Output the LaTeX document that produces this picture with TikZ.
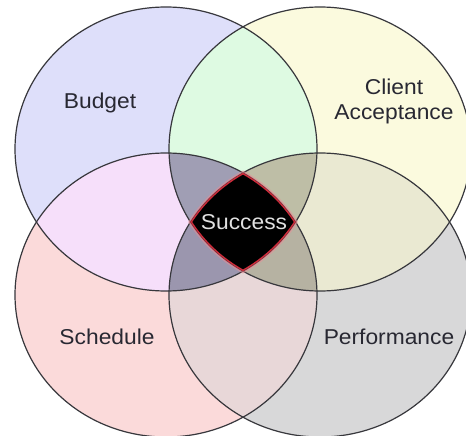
\documentclass[tikz,border=0pt]{standalone}
\usepackage{fontspec}
\setmainfont{Liberation Sans}
\definecolor{colB}{RGB}{222,223,250}
\definecolor{colC}{RGB}{251,250,222}
\definecolor{colS}{RGB}{251,218,218}
\definecolor{colP}{RGB}{216,216,217}
\definecolor{colBC}{RGB}{222,250,226}
\definecolor{colBS}{RGB}{246,223,250}
\definecolor{colCP}{RGB}{234,233,210}
\definecolor{colSP}{RGB}{232,215,216}
\definecolor{colBCS}{RGB}{160,158,180}
\definecolor{colBCP}{RGB}{190,190,166}
\definecolor{colBSP}{RGB}{155,150,174}
\definecolor{colCSP}{RGB}{182,178,162}
\definecolor{edgecol}{RGB}{55,55,60}
\definecolor{txt}{RGB}{40,40,50}
\definecolor{redline}{RGB}{205,45,60}
\definecolor{halo}{RGB}{235,140,150}
\begin{document}
\begin{tikzpicture}[x=1pt,y=-1pt,
  ell/.style={x radius=151pt,y radius=142pt},
  edge/.style={draw=edgecol,line width=1.2pt},
  lbl/.style={text=txt,font=\fontsize{21.5}{25}\selectfont,xscale=1.06,align=center,inner sep=0pt}]
\useasboundingbox (0,0) rectangle (466,436);
\fill[white] (0,0) rectangle (466,436);
\coordinate (cB) at (166,149);
\coordinate (cC) at (320,149);
\coordinate (cS) at (166,295);
\coordinate (cP) at (320,295);
% single circles
\fill[colB] (cB) ellipse[ell];
\fill[colC] (cC) ellipse[ell];
\fill[colS] (cS) ellipse[ell];
\fill[colP] (cP) ellipse[ell];
% pairs
\begin{scope}\clip (cB) ellipse[ell]; \fill[colBC] (cC) ellipse[ell];\end{scope}
\begin{scope}\clip (cB) ellipse[ell]; \fill[colBS] (cS) ellipse[ell];\end{scope}
\begin{scope}\clip (cC) ellipse[ell]; \fill[colCP] (cP) ellipse[ell];\end{scope}
\begin{scope}\clip (cS) ellipse[ell]; \fill[colSP] (cP) ellipse[ell];\end{scope}
% triples
\begin{scope}\clip (cB) ellipse[ell]; \clip (cC) ellipse[ell]; \fill[colBCS] (cS) ellipse[ell];\end{scope}
\begin{scope}\clip (cB) ellipse[ell]; \clip (cC) ellipse[ell]; \fill[colBCP] (cP) ellipse[ell];\end{scope}
\begin{scope}\clip (cB) ellipse[ell]; \clip (cS) ellipse[ell]; \fill[colBSP] (cP) ellipse[ell];\end{scope}
\begin{scope}\clip (cC) ellipse[ell]; \clip (cS) ellipse[ell]; \fill[colCSP] (cP) ellipse[ell];\end{scope}
% outlines
\draw[edge] (cB) ellipse[ell];
\draw[edge] (cC) ellipse[ell];
\draw[edge] (cS) ellipse[ell];
\draw[edge] (cP) ellipse[ell];
% halo around the centre
\begin{scope}
  \clip (cB) ellipse[x radius=153pt,y radius=144pt];
  \clip (cC) ellipse[x radius=153pt,y radius=144pt];
  \clip (cS) ellipse[x radius=153pt,y radius=144pt];
  \fill[halo,opacity=0.55] (cP) ellipse[x radius=153pt,y radius=144pt];
\end{scope}
% centre: all four
\begin{scope}
  \clip (cB) ellipse[ell]; \clip (cC) ellipse[ell]; \clip (cS) ellipse[ell];
  \fill[black] (cP) ellipse[ell];
  \clip (cP) ellipse[ell];
  \draw[redline,line width=3pt] (cB) ellipse[ell];
  \draw[redline,line width=3pt] (cC) ellipse[ell];
  \draw[redline,line width=3pt] (cS) ellipse[ell];
  \draw[redline,line width=3pt] (cP) ellipse[ell];
\end{scope}
% labels
\node[lbl] (budget) at (100,103) {Budget};
\node[lbl] (client) at (394,101) {Client\\Acceptance};
\node[lbl] (schedule) at (107,337) {Schedule};
\node[lbl] (performance) at (389,337) {Performance};
\node[lbl,text={rgb,255:red,225;green,225;blue,225}] (success) at (244,222) {Success};
\end{tikzpicture}
\end{document}
